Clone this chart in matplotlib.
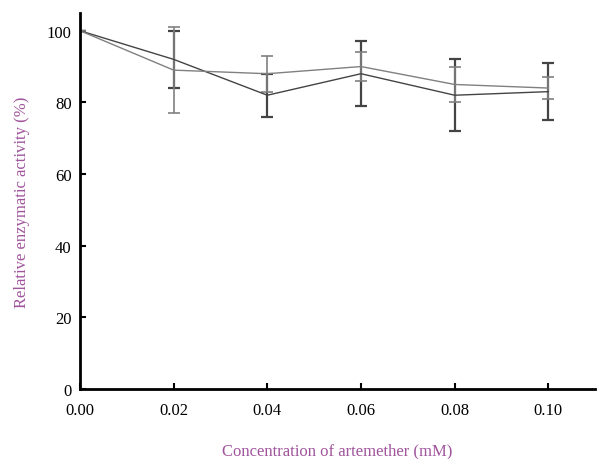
import numpy as np
import matplotlib.pyplot as plt

plt.rcParams['font.family'] = ['Liberation Serif', 'DejaVu Serif']

# concentration of artemether (mM)
conc = [0.00, 0.02, 0.04, 0.06, 0.08, 0.10]

# two measured series, relative activity (%)
act_a = [100, 92, 82, 88, 82, 83]
err_a = [0, 8, 6, 9, 10, 8]
act_b = [100, 89, 88, 90, 85, 84]
err_b = [0, 12, 5, 4, 5, 3]

yticks = [0, 20, 40, 60, 80, 100]
xticks = [0.00, 0.02, 0.04, 0.06, 0.08, 0.10]

label_col = '#a0549c'

fig = plt.figure(figsize=(5.97, 4.60), dpi=100)
ax = fig.add_axes([0.134, 0.152, 0.863, 0.818])

ax.errorbar(conc, act_a, yerr=err_a, color='#444444', lw=1.0, elinewidth=1.6,
            capsize=4, capthick=1.6)
ax.errorbar(conc, act_b, yerr=err_b, color='#808080', lw=1.0, elinewidth=1.2,
            capsize=4, capthick=1.2)

ax.set_xlim(0, 0.11)
ax.set_ylim(0, 105)
ax.set_xticks(xticks)
ax.set_xticklabels([f"{v:.2f}" for v in xticks])
ax.set_yticks(yticks)

for s in ['top', 'right']:
    ax.spines[s].set_visible(False)
ax.spines['left'].set_linewidth(2.0)
ax.spines['bottom'].set_linewidth(2.0)
ax.tick_params(direction='in', length=4, width=1.5, labelsize=12)
ax.tick_params(axis='x', pad=9)
ax.tick_params(axis='y', pad=6)

ax.set_xlabel('Concentration of artemether (mM)', color=label_col, fontsize=12, labelpad=18)
ax.set_ylabel('Relative enzymatic activity (%)', color=label_col, fontsize=12, labelpad=12)

fig.savefig('out.png', dpi=100)
